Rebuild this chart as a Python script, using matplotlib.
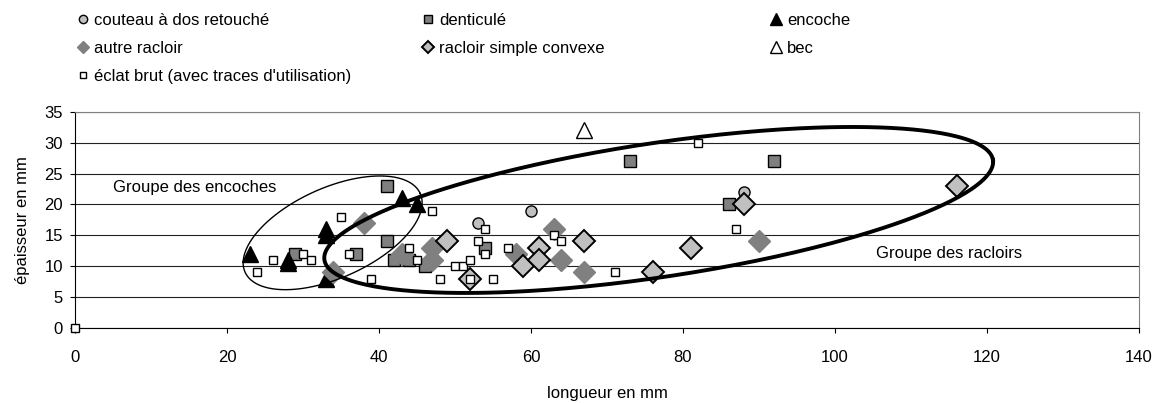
import numpy as np
import matplotlib
matplotlib.use("Agg")
import matplotlib.pyplot as plt
from matplotlib.lines import Line2D

plt.rcParams['font.family'] = ['Liberation Sans', 'DejaVu Sans']

# données (longueur, épaisseur en mm)
couteau_x = [53, 60, 88]
couteau_y = [17, 19, 22]
denticule_x = [29, 37, 41, 41, 42, 44, 46, 54, 73, 86, 92]
denticule_y = [12, 12, 23, 14, 11, 11, 10, 13, 27, 20, 27]
encoche_x = [23, 28, 28, 33, 33, 33, 43, 45]
encoche_y = [12, 11, 10.5, 16, 15, 8, 21, 20]
autre_racloir_x = [34, 38, 43, 47, 47, 58, 63, 64, 67, 90]
autre_racloir_y = [9, 17, 12, 13, 11, 12, 16, 11, 9, 14]
racloir_convexe_x = [49, 52, 59, 61, 61, 67, 76, 81, 88, 116]
racloir_convexe_y = [14, 8, 10, 13, 11, 14, 9, 13, 20, 23]
bec_x = [67]
bec_y = [32]
eclat_x = [0, 24, 26, 30, 31, 35, 36, 39, 44, 45, 47, 48, 50, 51, 52, 52, 53,
           54, 54, 55, 57, 63, 64, 71, 82, 87]
eclat_y = [0, 9, 11, 12, 11, 18, 12, 8, 13, 11, 19, 8, 10, 10, 11, 8, 14,
           16, 12, 8, 13, 15, 14, 9, 30, 16]

x_ticks = [0, 20, 40, 60, 80, 100, 120, 140]
y_ticks = [0, 5, 10, 15, 20, 25, 30, 35]

W, H = 1162, 403
fig = plt.figure(figsize=(W / 100, H / 100), dpi=100)
ax_l, ax_b, ax_w, ax_h = 75 / W, (H - 328) / H, 1064 / W, (328 - 111.7) / H
ax = fig.add_axes([ax_l, ax_b, ax_w, ax_h])

LIGHT = '#c0c0c0'
MID = '#808080'
FS = 12

# (nom, x, y, style, taille dans la légende)
series = [
    ("couteau à dos retouché", couteau_x, couteau_y,
     dict(marker='o', ms=8, mfc=LIGHT, mec='black', mew=1.0), 6),
    ("denticulé", denticule_x, denticule_y,
     dict(marker='s', ms=8, mfc=MID, mec='black', mew=1.0), 6),
    ("encoche", encoche_x, encoche_y,
     dict(marker='^', ms=11, mfc='black', mec='black', mew=1.0), 8),
    ("autre racloir", autre_racloir_x, autre_racloir_y,
     dict(marker='D', ms=11, mfc=MID, mec=MID, mew=1.0), 6.5),
    ("racloir simple convexe", racloir_convexe_x, racloir_convexe_y,
     dict(marker='D', ms=11, mfc=LIGHT, mec='black', mew=1.4), 6.5),
    ("bec", bec_x, bec_y,
     dict(marker='^', ms=11, mfc='white', mec='black', mew=1.0), 8),
    ("éclat brut (avec traces d'utilisation)", eclat_x, eclat_y,
     dict(marker='s', ms=5.5, mfc='white', mec='black', mew=1.0), 5),
]

handles = {}
for z, (name, xs, ys, st, leg_ms) in enumerate(series):
    ax.plot(xs, ys, ls='none', zorder=3 + z * 0.1, clip_on=False, **st)
    handles[name] = Line2D([], [], ls='none', **dict(st, ms=leg_ms))

ax.set_xlim(0, 140)
ax.set_ylim(0, 35)
ax.set_xticks(x_ticks)
ax.set_yticks(y_ticks)
ax.tick_params(labelsize=FS, direction='out', length=3.6, width=0.8)
ax.tick_params(axis='x', pad=12)
ax.tick_params(axis='y', pad=5)
ax.yaxis.grid(True, color='#222222', lw=0.8)
ax.set_axisbelow(True)
for s in ['top', 'right']:
    ax.spines[s].set_color(MID)
for s in ['left', 'bottom']:
    ax.spines[s].set_color('black')
ax.set_xlabel("longueur en mm", fontsize=FS)
ax.set_ylabel("épaisseur en mm", fontsize=FS)
ax.xaxis.set_label_coords(0.5, -0.268)
ax.yaxis.set_label_coords(-0.0423, 0.5)

# ellipses de regroupement (demi-axes en pixels)
sx = W * ax_w / 140
sy = H * ax_h / 35


def ellipse(cx, cy, a_px, b_px, angle):
    t = np.linspace(0, 2 * np.pi, 400)
    th = np.deg2rad(angle)
    dx = a_px * np.cos(t) * np.cos(th) - b_px * np.sin(t) * np.sin(th)
    dy = a_px * np.cos(t) * np.sin(th) + b_px * np.sin(t) * np.cos(th)
    return cx + dx / sx, cy + dy / sy


ex, ey = ellipse(33.9, 15.4, 96, 45, 24.2)
ax.plot(ex, ey, color='black', lw=1.0, zorder=5)
ex, ey = ellipse(76.8, 19.1, 338, 67, 8.5)
ax.plot(ex, ey, color='black', lw=2.8, zorder=5)

ax.text(5.0, 22.8, "Groupe des encoches", fontsize=FS, va='center')
ax.text(105.4, 12.0, "Groupe des racloirs", fontsize=FS, va='center')

# légende en trois colonnes
cols = [
    (["couteau à dos retouché", "autre racloir",
      "éclat brut (avec traces d'utilisation)"], 76),
    (["denticulé", "racloir simple convexe"], 421),
    (["encoche", "bec"], 769),
]
for names, xpx in cols:
    fig.legend([handles[n] for n in names], names, loc='upper left',
               bbox_to_anchor=(xpx / W, 1 - 13 / H), frameon=False,
               fontsize=FS, handlelength=0.8, handletextpad=0.3,
               labelspacing=0.79, borderpad=0, borderaxespad=0)

fig.savefig("out.png", dpi=100)
